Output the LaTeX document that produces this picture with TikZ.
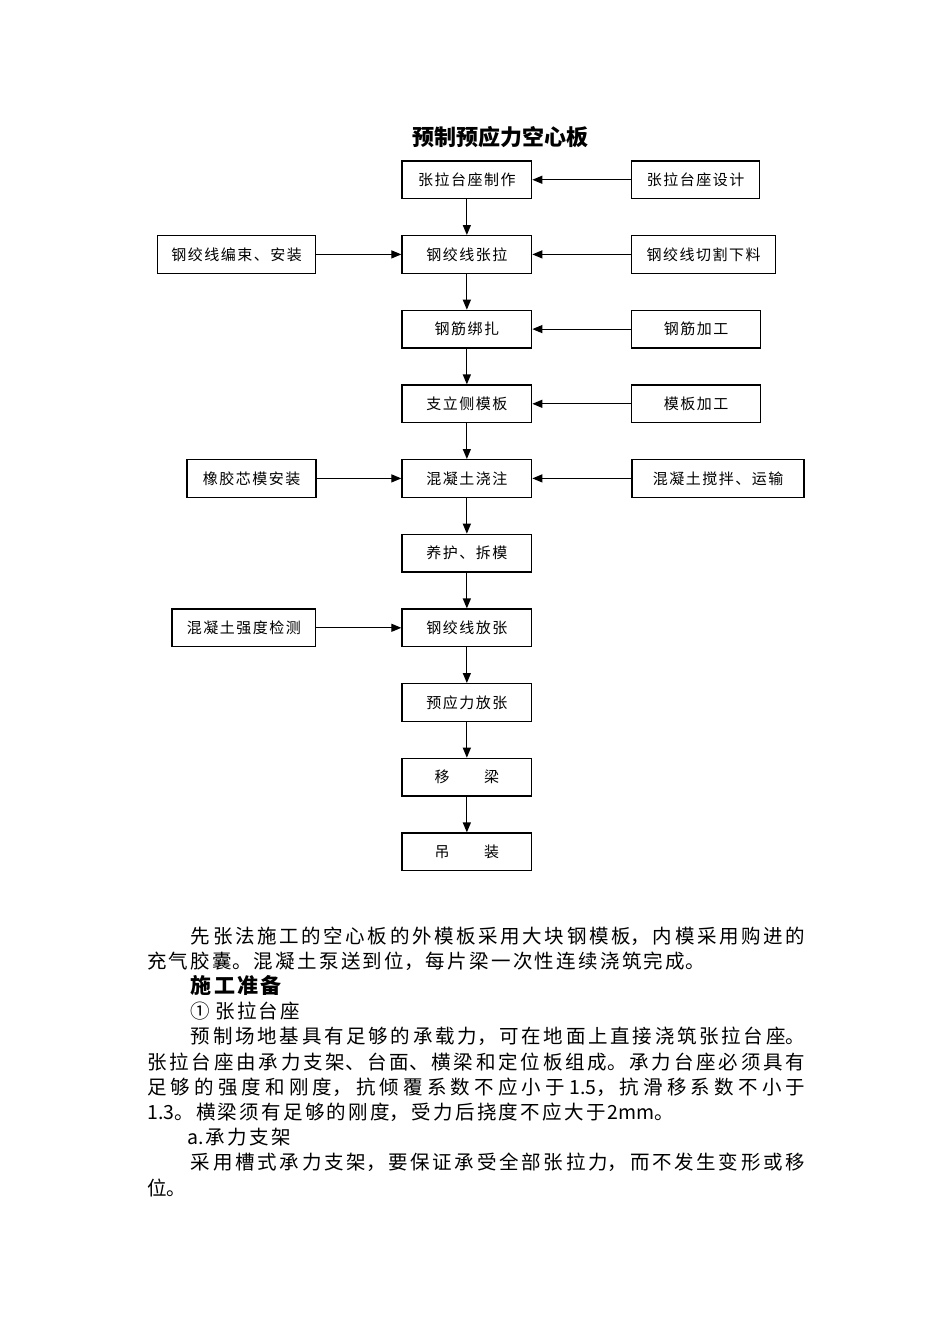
\documentclass[tikz,border=0pt]{standalone}
\usepackage{fontspec}
\usetikzlibrary{arrows.meta}
\newfontfamily\boxcjk[LetterSpace=10]{Noto Sans CJK SC}
\newfontfamily\bodycjk{Noto Sans CJK SC}
\newfontfamily\titlecjk{Noto Sans CJK SC}
\XeTeXlinebreaklocale "zh"
\XeTeXlinebreakskip=2.3pt plus 3pt
\tikzset{
  fbox/.style={draw=black, line width=1.3pt, minimum height=37.5pt, inner sep=0pt,
    font=\boxcjk\fontsize{15pt}{17pt}\selectfont, text=black},
  flow/.style={draw=black, line width=1.2pt, -{Triangle[length=10pt,width=8pt]}},
}
\begin{document}
\begin{tikzpicture}[x=1pt,y=-1pt]
\useasboundingbox (0,0) rectangle (950,1344);
% title
\node[font=\titlecjk\bfseries\fontsize{22pt}{24pt}\selectfont, inner sep=0pt] (title) at (500,137) {预制预应力空心板};
% main column (x 402-531.7)
\node[fbox, minimum width=129.7pt] (m1) at (466.85,179.75) {张拉台座制作};
\node[fbox, minimum width=129.7pt] (m2) at (466.85,254.4) {钢绞线张拉};
\node[fbox, minimum width=129.7pt] (m3) at (466.85,329.1) {钢筋绑扎};
\node[fbox, minimum width=129.7pt] (m4) at (466.85,403.8) {支立侧模板};
\node[fbox, minimum width=129.7pt] (m5) at (466.85,478.4) {混凝土浇注};
\node[fbox, minimum width=129.7pt] (m6) at (466.85,553.1) {养护、拆模};
\node[fbox, minimum width=129.7pt] (m7) at (466.85,627.8) {钢绞线放张};
\node[fbox, minimum width=129.7pt] (m8) at (466.85,702.4) {预应力放张};
\node[fbox, minimum width=129.7pt] (m9) at (466.85,777.1) {移　　梁};
\node[fbox, minimum width=129.7pt] (m10) at (466.85,851.8) {吊　　装};
% right column
\node[fbox, minimum width=127.5pt] (r1) at (695.5,179.75) {张拉台座设计};
\node[fbox, minimum width=143.5pt] (r2) at (703.5,254.4) {钢绞线切割下料};
\node[fbox, minimum width=128.5pt] (r3) at (696,329.1) {钢筋加工};
\node[fbox, minimum width=128.5pt] (r4) at (696,403.8) {模板加工};
\node[fbox, minimum width=172pt] (r5) at (718,478.4) {混凝土搅拌、运输};
% left column
\node[fbox, minimum width=158.4pt] (l2) at (236.5,254.4) {钢绞线编束、安装};
\node[fbox, minimum width=129pt] (l5) at (251.5,478.4) {橡胶芯模安装};
\node[fbox, minimum width=143.7pt] (l7) at (243.85,627.8) {混凝土强度检测};
% vertical flow
\foreach \a/\b in {m1/m2,m2/m3,m3/m4,m4/m5,m5/m6,m6/m7,m7/m8,m8/m9,m9/m10}
  \draw[flow] (\a.south) -- (\b.north);
% side inputs
\foreach \a/\b in {r1/m1,r2/m2,r3/m3,r4/m4,r5/m5}
  \draw[flow] (\a.west) -- (\b.east);
\foreach \a/\b in {l2/m2,l5/m5,l7/m7}
  \draw[flow] (\a.east) -- (\b.west);
% body text
\node[anchor=base west, inner sep=0pt, text width=658pt, align=justify,
      font=\bodycjk\fontsize{19.5pt}{25.2pt}\selectfont] (body) at (147,943) {%
\parindent=43.7pt\parskip=0pt\baselineskip=25.2pt\lineskiplimit=-10pt
\indent 先张法施工的空心板的外模板采用大块钢模板，内模采用购进的\linebreak
充气胶囊。混凝土泵送到位，每片梁一次性连续浇筑完成。\par
\indent{\bfseries\fontsize{21pt}{25.2pt}\selectfont 施工准备}\par
\indent ①\kern5pt 张拉台座\par
\indent 预制场地基具有足够的承载力，可在地面上直接浇筑张拉台座。\linebreak
张拉台座由承力支架、台面、横梁和定位板组成。承力台座必须具有\linebreak
足够的强度和刚度，抗倾覆系数不应小于1.5，抗滑移系数不小于\linebreak
1.3。横梁须有足够的刚度，受力后挠度不应大于2mm。\par
\noindent\hspace*{40pt}a.承力支架\par
\indent 采用槽式承力支架，要保证承受全部张拉力，而不发生变形或移\linebreak
位。\par};
\end{tikzpicture}
\end{document}
